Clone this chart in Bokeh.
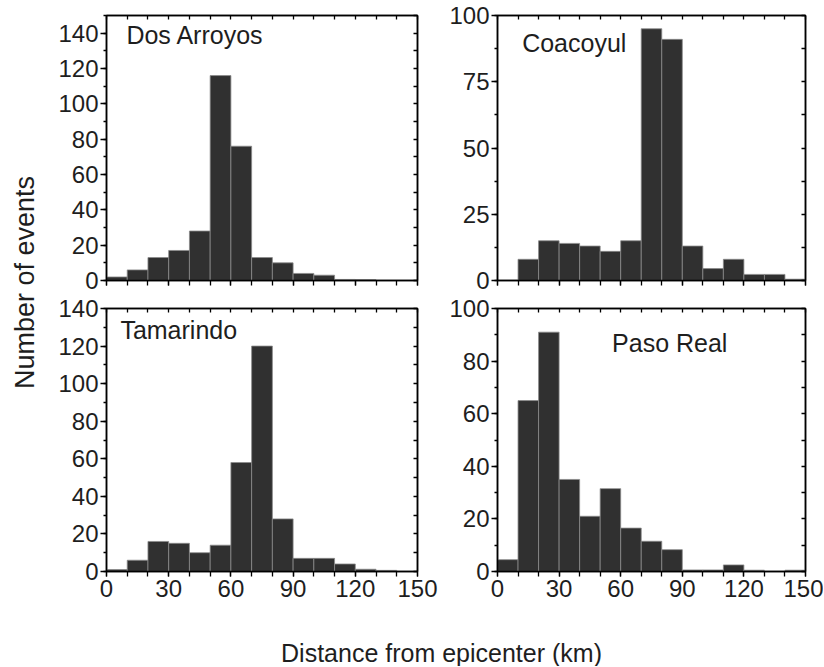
import math
from bokeh.plotting import figure
from bokeh.models import Range1d, FixedTicker, LinearAxis, Label
from bokeh.layouts import row, column
from bokeh.embed import file_html
from bokeh.resources import INLINE

# ---------------- data ----------------
bin_edges = [0, 10, 20, 30, 40, 50, 60, 70, 80, 90, 100, 110, 120, 130, 140, 150]
x_tick_labels = [0, 30, 60, 90, 120, 150]

dos_arroyos = [2, 6, 13, 17, 28, 116, 76, 13, 10, 4, 3, 0.6, 0.5, 0, 0]
coacoyul = [0, 8, 15, 14, 13, 11, 15, 95, 91, 13, 4.5, 8, 2.3, 2.3, 0.5]
tamarindo = [1, 6, 16, 15, 10, 14, 58, 120, 28, 7, 7, 4, 1.2, 0.6, 0]
paso_real = [4.5, 65, 91, 35, 21, 31.5, 16.5, 11.5, 8.3, 0.6, 0.6, 2.5, 0.5, 0, 0.5]

ticks_140 = [0, 20, 40, 60, 80, 100, 120, 140]
ticks_100_25 = [0, 25, 50, 75, 100]
ticks_100_20 = [0, 20, 40, 60, 80, 100]

FONT = "Liberation Sans"
TXT = "#1e1e1e"
BAR = "#303030"
EDGE = "#8a8a8a"


def frange(a, b, s):
    out = []
    v = a
    while v <= b + 1e-9:
        out.append(round(v, 4))
        v += s
    return out


def panel(values, ymax, yticks, ystep_minor, name, lx, ly, show_xlabels,
          width, height, bl, br, bt, bb):
    p = figure(width=width, height=height, output_backend="svg", toolbar_location=None,
               x_range=Range1d(0, 150), y_range=Range1d(0, ymax),
               min_border_left=bl, min_border_right=br, min_border_top=bt, min_border_bottom=bb,
               background_fill_color="white", border_fill_color="white")
    p.xgrid.grid_line_color = None
    p.ygrid.grid_line_color = None
    p.outline_line_color = "black"
    p.outline_line_width = 1.5

    p.quad(left=bin_edges[:-1], right=bin_edges[1:], bottom=0, top=values,
           fill_color=BAR, line_color=EDGE, line_width=0.8)

    minor_x = frange(0, 150, 10)
    minor_y = frange(0, ymax, ystep_minor)

    xa = p.xaxis[0]
    xa.ticker = FixedTicker(ticks=x_tick_labels, minor_ticks=minor_x)
    xa.major_tick_in = 0
    xa.major_tick_out = 5
    xa.minor_tick_in = 0
    xa.minor_tick_out = 5
    xa.axis_line_width = 1.5
    xa.major_tick_line_width = 1.3
    xa.minor_tick_line_width = 1.3
    if show_xlabels:
        xa.major_label_text_font = FONT
        xa.major_label_text_font_size = "24px"
        xa.major_label_text_color = TXT
        xa.major_label_standoff = 3
    else:
        xa.major_label_text_color = None
        xa.major_label_standoff = 0

    ya = p.yaxis[0]
    ya.ticker = FixedTicker(ticks=yticks, minor_ticks=minor_y)
    ya.major_tick_in = 0
    ya.major_tick_out = 6
    ya.minor_tick_in = 0
    ya.minor_tick_out = 3
    ya.axis_line_width = 1.5
    ya.major_tick_line_width = 1.3
    ya.minor_tick_line_width = 1.3
    ya.major_label_text_font = FONT
    ya.major_label_text_font_size = "24px"
    ya.major_label_text_color = TXT
    ya.major_label_standoff = 2

    top = LinearAxis(ticker=FixedTicker(ticks=minor_x, minor_ticks=[]),
                     major_tick_in=4, major_tick_out=0, major_label_text_color=None,
                     major_label_standoff=0, axis_line_width=1.5, major_tick_line_width=1.3)
    p.add_layout(top, "above")
    right = LinearAxis(ticker=FixedTicker(ticks=minor_y, minor_ticks=[]),
                       major_tick_in=4, major_tick_out=0, major_label_text_color=None,
                       major_label_standoff=0, axis_line_width=1.5, major_tick_line_width=1.3)
    p.add_layout(right, "right")

    p.add_layout(Label(x=lx, y=ly, text=name, text_font=FONT, text_font_size="25px",
                       text_color=TXT, text_baseline="middle", text_align="left"))
    return p


YW = 55
LW, RW = 391, 377
TH, BH, XH = 294, 313, 59

tl = panel(dos_arroyos, 150, ticks_140, 10, "Dos Arroyos", 9.6, 138.7, False,
           LW, TH, 50, 29, 15, 14)
tr = panel(coacoyul, 100, ticks_100_25, 12.5, "Coacoyul", 12.0, 89.8, False,
           RW, TH, 47, 18, 15, 14)
bl = panel(tamarindo, 140, ticks_140, 10, "Tamarindo", 6.7, 128.6, True,
           LW, BH, 50, 29, 14, 36)
br = panel(paso_real, 100, ticks_100_20, 10, "Paso Real", 55.8, 86.9, True,
           RW, BH, 47, 18, 14, 36)


def text_fig(w, h):
    f = figure(width=w, height=h, output_backend="svg", toolbar_location=None,
               x_range=Range1d(0, w), y_range=Range1d(0, h),
               x_axis_type=None, y_axis_type=None, min_border=0)
    f.xgrid.grid_line_color = None
    f.ygrid.grid_line_color = None
    f.outline_line_color = None
    return f


total_h = TH + BH + XH
ylab = text_fig(YW, total_h)
ylab.add_layout(Label(x=24, y=total_h - 282, text="Number of events", angle=math.pi / 2,
                      text_font=FONT, text_font_size="27px", text_color=TXT,
                      text_align="center", text_baseline="middle"))

xlab = text_fig(LW + RW, XH)
xlab.add_layout(Label(x=441 - YW, y=total_h - 652, text="Distance from epicenter (km)",
                      text_font=FONT, text_font_size="25px", text_color=TXT,
                      text_align="center", text_baseline="middle"))

layout = row(ylab, column(row(tl, tr), row(bl, br), xlab))

open("out.html", "w").write(file_html(layout, INLINE))
